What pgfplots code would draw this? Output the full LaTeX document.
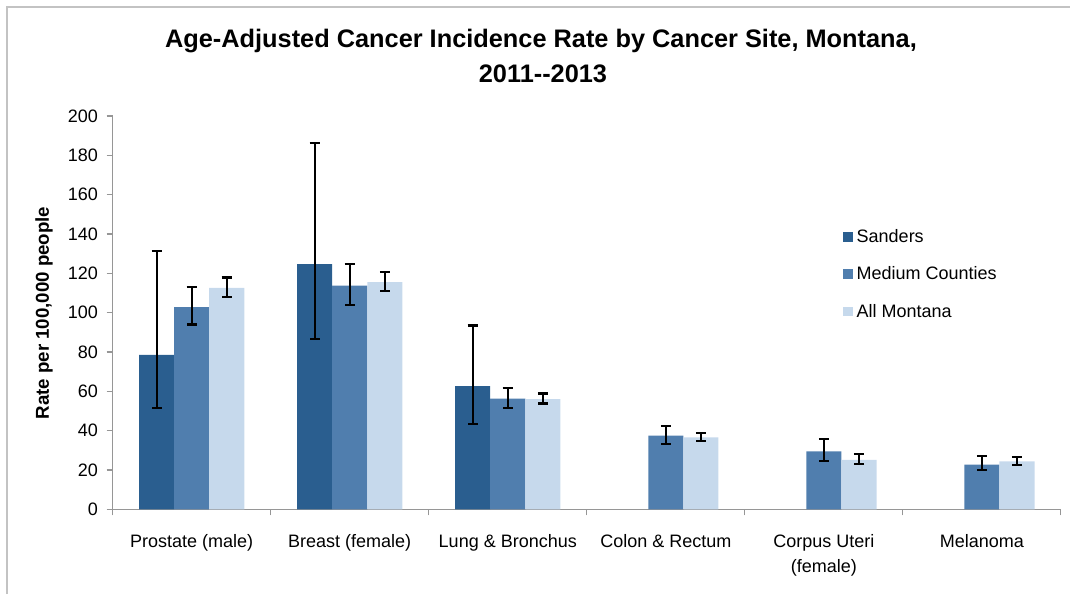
\documentclass[border=0pt]{standalone}
\usepackage{pgfplots}
\usepackage{pgfplotstable}
\pgfplotsset{compat=1.18}
\usepackage{fontspec}
\setmainfont{Liberation Sans}
\definecolor{cS}{RGB}{42,94,143}
\definecolor{cM}{RGB}{80,126,174}
\definecolor{cA}{RGB}{198,217,236}
\definecolor{axgray}{RGB}{150,150,150}
\definecolor{bordergray}{RGB}{195,195,195}

\pgfplotstableread{
x y ep em
0 78.5 52.8 26.8
1 124.7 61.7 38.0
2 62.6 30.9 19.0
}\sanders
\pgfplotstableread{
x y ep em
0 102.8 10.3 8.8
1 113.8 11.1 9.8
2 56.3 5.6 4.6
3 37.5 4.9 4.3
4 29.5 6.1 4.8
5 22.7 4.3 2.9
}\medium
\pgfplotstableread{
x y ep em
0 112.6 5.3 4.6
1 115.5 5.3 4.7
2 56.1 2.8 2.3
3 36.6 2.2 2.0
4 25.1 2.9 2.2
5 24.4 2.1 1.7
}\allmt

\pgfplotsset{myerr/.style={
  error bars/y dir=both, error bars/y explicit,
  error bars/error bar style={draw=black, line width=1.6pt},
  error bars/error mark options={draw=black, line width=1.6pt, mark size=3.8pt, rotate=90},
}}

\begin{document}
\begin{tikzpicture}
\useasboundingbox (0,0) rectangle (802.5pt,445.5pt);
\draw[bordergray, line width=1.1pt] (5.25pt,0) -- (5.25pt,440.25pt) -- (802.5pt,440.25pt);
\node[anchor=base, font=\bfseries\fontsize{19}{23}\selectfont] at (405.75pt,409.5pt) {Age-Adjusted Cancer Incidence Rate by Cancer Site, Montana,};
\node[anchor=base, font=\bfseries\fontsize{19}{23}\selectfont] at (407.25pt,383.25pt) {2011-{}-2013};
\node[rotate=90, font=\bfseries\fontsize{14}{17}\selectfont] at (33pt,210.75pt) {Rate per 100,000 people};
\begin{axis}[
  at={(84.5pt,63.5pt)}, anchor=south west,
  scale only axis, width=711.2pt, height=295pt,
  xmin=-0.5, xmax=5.5, ymin=0, ymax=200,
  axis x line*=bottom, axis y line*=left,
  axis line style={axgray, line width=1pt},
  ytick={0,20,...,200},
  xtick={0,...,5},
  xticklabels={Prostate (male), Breast (female), Lung \& Bronchus, Colon \& Rectum, {Corpus Uteri\\(female)}, Melanoma},
  xticklabel style={align=center, font=\fontsize{13.5}{18.5}\selectfont, yshift=-11pt},
  yticklabel style={font=\fontsize{13.5}{16}\selectfont, xshift=-3pt},
  /pgf/number format/assume math mode=true,
  major x tick style={draw=none},
  minor xtick={-0.5,0.5,...,5.5},
  tick align=outside,
  tick style={axgray, line width=0.8pt},
  major tick length=4.5pt, minor tick length=4.5pt,
  ybar, bar width=0.222,
  legend style={at={(0.770,0.719)}, anchor=north west, draw=none, fill=none,
    font=\fontsize{13.5}{16}\selectfont, row sep=12.8pt, inner sep=0pt,
    /tikz/every odd column/.append style={column sep=1pt}},
  legend cell align=left,
  legend image code/.code={\fill[#1] (0pt,-3.4pt) rectangle (7.2pt,3.8pt);},
]
\addplot[fill=cS, draw=none, bar shift=-0.222, myerr] table[x=x, y=y, y error plus=ep, y error minus=em] {\sanders};
\addplot[fill=cM, draw=none, bar shift=0, myerr] table[x=x, y=y, y error plus=ep, y error minus=em] {\medium};
\addplot[fill=cA, draw=none, bar shift=0.222, myerr] table[x=x, y=y, y error plus=ep, y error minus=em] {\allmt};
\legend{Sanders, Medium Counties, All Montana}
\end{axis}
\end{tikzpicture}
\end{document}
